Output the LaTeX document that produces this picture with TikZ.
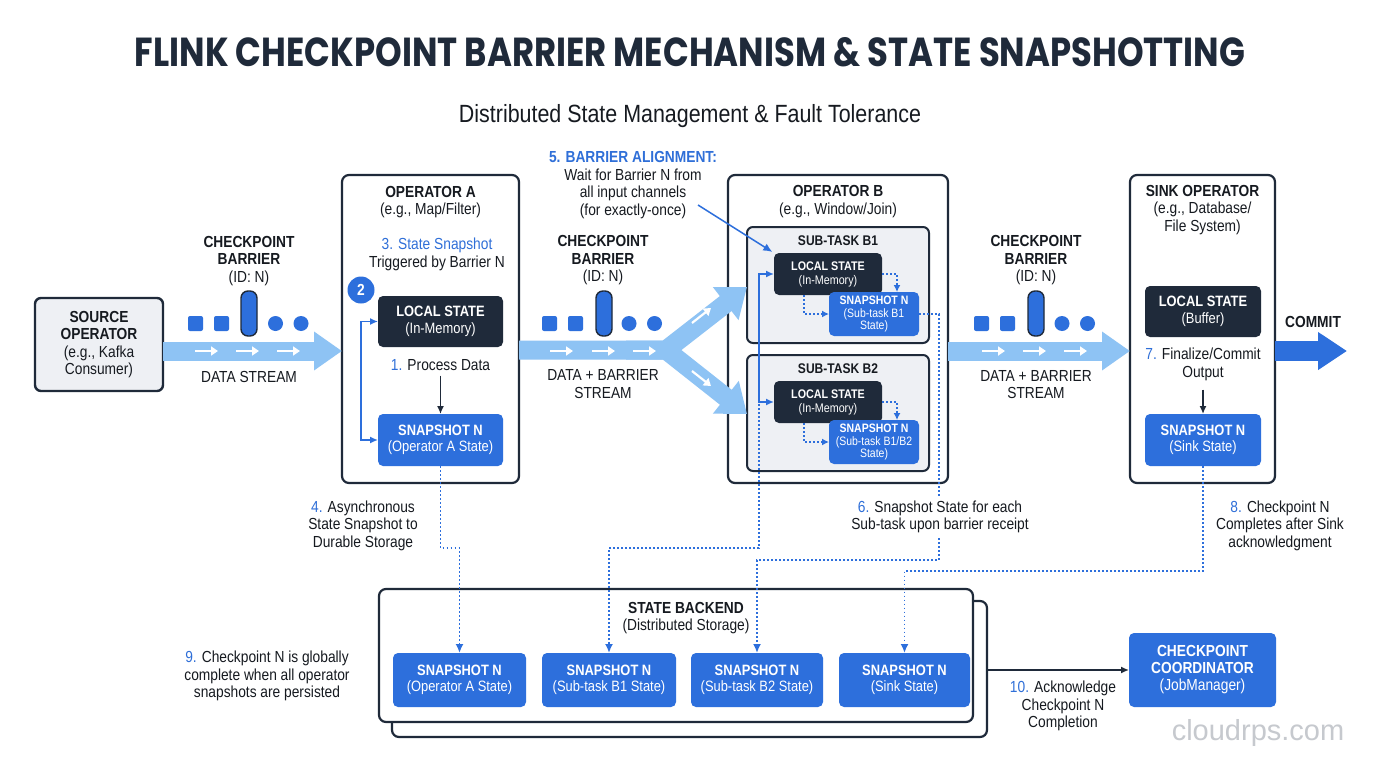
\documentclass[tikz,border=0pt]{standalone}
\usepackage{graphicx}
\usepackage{fontspec}
\setmainfont{Liberation Sans}[FakeStretch=0.86]
\newfontfamily\titlefont{Poppins}
\newfontfamily\wmfont{Liberation Sans}
\usetikzlibrary{arrows.meta,calc}
\definecolor{navy}{HTML}{1F2A3A}
\definecolor{bluec}{HTML}{2D6FDC}
\definecolor{numblue}{HTML}{2F6FD8}
\definecolor{flowc}{HTML}{8EC3F4}
\definecolor{grayf}{HTML}{EEF0F4}
\definecolor{ink}{HTML}{161A20}
\definecolor{wmc}{HTML}{C6C9CE}
\newcommand\fs[2]{\fontsize{#1}{#2}\selectfont}
\newcommand\nb[1]{\textcolor{numblue}{#1}}
\tikzset{
  every node/.style={inner sep=0pt, outer sep=0pt, align=center, text=ink, font=\fs{16}{17.5}},
  sz/.style 2 args={minimum width=#1pt, minimum height=#2pt},
  opbox/.style={draw=navy, line width=2.2pt, rounded corners=7pt, fill=white},
  subbox/.style={draw=navy, line width=2pt, rounded corners=6pt, fill=grayf},
  srcbox/.style={draw=navy, line width=2.4pt, rounded corners=6pt, fill=grayf},
  darkbox/.style={fill=navy, rounded corners=5pt, text=white},
  snapbox/.style={fill=bluec, rounded corners=5pt, text=white},
  flow/.style={draw=flowc, line width=19pt, line join=miter, -{Triangle[length=28pt,width=37pt]}},
  commitflow/.style={draw=bluec, line width=20pt, -{Triangle[length=29pt,width=36pt]}},
  mini/.style={draw=white, line width=2.2pt, -{Triangle[length=7pt,width=9pt]}},
  dots/.style={draw=bluec, line width=1.8pt, dash pattern=on 1.8pt off 2.2pt, -{Latex[length=9pt,width=8pt]}},
  brk/.style={draw=bluec, line width=1.5pt},
  darr/.style={draw=navy, line width=1.5pt, -{Latex[length=8pt,width=7pt]}},
}
\begin{document}
\begin{tikzpicture}[x=1pt,y=-1pt]
\useasboundingbox[fill=white] (0,0) rectangle (1376,768);

% titles
\node[text=navy] (title) at (690,52.5) {\resizebox{1110pt}{29pt}{\titlefont\bfseries FLINK CHECKPOINT BARRIER MECHANISM \& STATE SNAPSHOTTING}};
\node (subtitle) at (690,116) {\resizebox{462pt}{!}{\fs{22}{24}Distributed State Management \& Fault Tolerance}};

% ---------- main boxes ----------
\node[srcbox, sz={128}{93}] (src) at (99,344.5) {\bfseries SOURCE\\\bfseries OPERATOR\\(e.g., Kafka\\Consumer)};
\node[opbox, sz={177}{308}] (opA) at (430.5,329) {};
\node[opbox, sz={220}{308}] (opB) at (838,329) {};
\node[opbox, sz={145}{308}] (opS) at (1202.5,329) {};

% ---------- flows ----------
\draw[flow] (src.east |- 0,351) -- (opA.west |- 0,351);
\coordinate (split) at (666,350);
\node[subbox, sz={182}{116}] (subB1) at (838,285) {};
\node[subbox, sz={182}{116}] (subB2) at (838,413) {};
\draw[flow,-{Triangle[length=27pt,width=40pt]}] (opA.east |- 0,350) -- (split) -- (subB1.west |- 0,287);
\draw[flow,-{Triangle[length=27pt,width=40pt]}] ($(split)+(-40,0)$) -- (split) -- (subB2.west |- 0,414);
\draw[flow] (opB.east |- 0,351) -- (opS.west |- 0,351);
\coordinate (commitEnd) at (1347,351);
\draw[commitflow] (opS.east |- 0,351) -- (commitEnd);
\node[font=\fs{16}{17.5}\bfseries] (commit) at (1313,322) {COMMIT};

% mini white arrows
\foreach \x in {195,236,277,550,592,633,982,1023,1064}{
  \draw[mini] (\x,351) -- ++(23,0);
}
\draw[mini] (692,323) -- (711,308);
\draw[mini] (692,371) -- (711,386);

% barrier markers
\foreach \x/\cx/\cy in {188/241/275.5,542/596/629,974/1028/1062}{
  \fill[bluec, rounded corners=2pt] (\x,316) rectangle ++(15,15);
  \fill[bluec, rounded corners=2pt] (\x+26,316) rectangle ++(15,15);
  \filldraw[fill=bluec, draw=navy, line width=1.4pt, rounded corners=7pt] (\cx,291) rectangle ++(16,45);
  \fill[bluec] (\cy,323.5) circle (7.5);
  \fill[bluec] (\cy+25.5,323.5) circle (7.5);
}

\node (cb1) at (249,261) {\bfseries CHECKPOINT\\\bfseries BARRIER\\(ID: N)};
\node (ds1) at (249,377) {DATA STREAM};
\node (cb2) at (603,260.5) {\bfseries CHECKPOINT\\\bfseries BARRIER\\(ID: N)};
\node (ds2) at (603,384) {DATA + BARRIER\\STREAM};
\node (cb3) at (1036,260.5) {\bfseries CHECKPOINT\\\bfseries BARRIER\\(ID: N)};
\node (ds3) at (1036,384.5) {DATA + BARRIER\\STREAM};

% ---------- Operator A ----------
\node (opAt) at (430.5,202) {\bfseries OPERATOR A\\(e.g., Map/Filter)};
\node (trig) at (437,254.5) {\nb{3. State Snapshot}\\Triggered by Barrier N};
\node[darkbox, sz={125}{51}, font=\fs{15}{16.5}] (lsA) at (440.5,321.5) {\bfseries LOCAL STATE\\(In-Memory)};
\node (proc) at (440.5,365) {\nb{1.} Process Data};
\node[snapbox, sz={125}{52}, font=\fs{15}{16.5}] (snA) at (440.5,440) {\bfseries SNAPSHOT N\\(Operator A State)};
\draw[darr] (proc.south) ++(0,5) coordinate (procb) (procb) -- (snA.north);
\draw[brk, {Latex[length=8pt,width=7pt]}-{Latex[length=8pt,width=7pt]}] (lsA.west) -- ++(-17,0) |- (snA.west);
\node[circle, fill=bluec, minimum size=27pt, text=white, font=\fs{16}{17}\bfseries] (n2) at (361,290) {2};

% ---------- Alignment note ----------
\node (align) at (633,185) {\textcolor{numblue}{\bfseries 5. BARRIER ALIGNMENT:}\\Wait for Barrier N from\\all input channels\\(for exactly-once)};

% ---------- Operator B ----------
\node (opBt) at (838,201.5) {\bfseries OPERATOR B\\(e.g., Window/Join)};
\node[font=\fs{14}{15}\bfseries] (subB1t) at (838,241) {SUB-TASK B1};
\node[font=\fs{14}{15}\bfseries] (subB2t) at (838,369) {SUB-TASK B2};
\node[darkbox, sz={108}{42}, font=\fs{12.5}{14}] (lsB1) at (828,274) {\bfseries LOCAL STATE\\(In-Memory)};
\node[snapbox, sz={90}{44}, font=\fs{12.2}{12.8}] (snB1) at (874,314) {\bfseries SNAPSHOT N\\(Sub-task B1\\State)};
\node[darkbox, sz={108}{42}, font=\fs{12.5}{14}] (lsB2) at (828,402) {\bfseries LOCAL STATE\\(In-Memory)};
\node[snapbox, sz={90}{44}, font=\fs{12.2}{12.8}] (snB2) at (874,442) {\bfseries SNAPSHOT N\\(Sub-task B1/B2\\State)};
\draw[dots,-{Latex[length=7pt,width=7pt]}] (lsB1.east) -| ([xshift=-22pt]snB1.north east);
\draw[dots,-{Latex[length=7pt,width=7pt]}] ([xshift=30pt]lsB1.south west) |- (snB1.west);
\draw[dots,-{Latex[length=7pt,width=7pt]}] (lsB2.east) -| ([xshift=-22pt]snB2.north east);
\draw[dots,-{Latex[length=7pt,width=7pt]}] ([xshift=30pt]lsB2.south west) |- (snB2.west);
\draw[brk, {Latex[length=8pt,width=7pt]}-{Latex[length=8pt,width=7pt]}] (lsB1.west) -- ++(-15,0) |- (lsB2.west);
\coordinate (p5) at (698,205);
\draw[brk, -{Latex[length=9pt,width=8pt]}, shorten >=2pt] (p5) -- (lsB1.north west);

% ---------- Sink ----------
\node (opSt) at (1202.5,210) {\bfseries SINK OPERATOR\\(e.g., Database/\\File System)};
\node[darkbox, sz={116}{51}, font=\fs{15}{16.5}] (lsS) at (1203,311.5) {\bfseries LOCAL STATE\\(Buffer)};
\node (fin) at (1203,364.5) {\nb{7.} Finalize/Commit\\Output};
\node[snapbox, sz={116}{52}, font=\fs{15}{16.5}] (snS) at (1203,440) {\bfseries SNAPSHOT N\\(Sink State)};
\draw[darr] (fin.south) ++(0,9) coordinate (finb) (finb) -- (snS.north);

% ---------- State backend ----------
\node[draw=navy, line width=2.2pt, rounded corners=7pt, fill=white, sz={595}{136}] (back) at (689.5,669) {};
\node[opbox, sz={594}{133}] (backend) at (676,655.5) {};
\node (bet) at (686,618) {\bfseries STATE BACKEND\\(Distributed Storage)};
\node[snapbox, sz={133}{54}, font=\fs{15}{16.5}] (stA) at (459.5,680) {\bfseries SNAPSHOT N\\(Operator A State)};
\node[snapbox, sz={134}{54}, font=\fs{15}{16.5}] (stB1) at (609,680) {\bfseries SNAPSHOT N\\(Sub-task B1 State)};
\node[snapbox, sz={132}{54}, font=\fs{15}{16.5}] (stB2) at (757,680) {\bfseries SNAPSHOT N\\(Sub-task B2 State)};
\node[snapbox, sz={131}{54}, font=\fs{15}{16.5}] (stS) at (904.5,680) {\bfseries SNAPSHOT N\\(Sink State)};

\node[snapbox, sz={147}{74}, font=\fs{16}{17}] (coord) at (1202.5,670) {\bfseries CHECKPOINT\\\bfseries COORDINATOR\\(JobManager)};
\draw[darr] (back.east |- coord.west) -- (coord.west);

% dotted persistence lines
\draw[dots] (snA.south) -- ++(0,82) -| (stA.north);
\coordinate (b1tap) at (759,404);
\draw[dots] (b1tap) -- (759,548) -| (stB1.north);
\draw[dots] (snB1.east) -- ++(20,0) |- (757,560) -- (stB2.north);
\draw[dots] (snS.south) -- ++(0,105) -| (stS.north);

% bottom notes
\node (t4) at (363,525.5) {\nb{4.} Asynchronous\\State Snapshot to\\Durable Storage};
\node[fill=white, inner ysep=3pt] (t6) at (940,517) {\nb{6.} Snapshot State for each\\Sub-task upon barrier receipt};
\node (t8) at (1280,525.5) {\nb{8.} Checkpoint N\\Completes after Sink\\acknowledgment};
\node (t9) at (267,676) {\nb{9.} Checkpoint N is globally\\complete when all operator\\snapshots are persisted};
\node (t10) at (1063,706) {\nb{10.} Acknowledge\\Checkpoint N\\Completion};

\node[text=wmc, font=\wmfont\fontsize{29}{30}\selectfont] (wm) at (1258,733) {cloudrps.com};
\end{tikzpicture}
\end{document}
